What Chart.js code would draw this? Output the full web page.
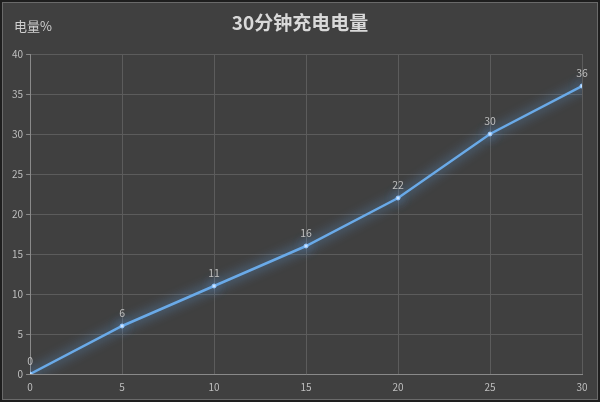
<!DOCTYPE html>
<html><head><meta charset="utf-8">
<script src="https://cdn.jsdelivr.net/npm/chart.js@4.4.0/dist/chart.umd.min.js"></script>
<style>
html,body{margin:0;padding:0;background:#404040;}
#wrap{width:600px;height:402px;position:relative;}
</style></head>
<body><div id="wrap"><canvas id="c" width="600" height="402"></canvas></div>
<script>
const minutes = [0, 5, 10, 15, 20, 25, 30];
const charge = [0, 6, 11, 16, 22, 30, 36];
const titleText = '30分钟充电电量';
const yAxisLabel = '电量%';

const FONT = '"Noto Sans CJK SC", "Noto Sans", sans-serif';

const decor = {
  id: 'decor',
  beforeDraw(chart) {
    const ctx = chart.ctx;
    ctx.save();
    ctx.fillStyle = '#404040';
    ctx.fillRect(0, 0, chart.width, chart.height);
    ctx.strokeStyle = '#1e1e1e';
    ctx.lineWidth = 2;
    ctx.strokeRect(1, 1, chart.width - 2, chart.height - 2);
    ctx.strokeStyle = '#6a6a6a';
    ctx.lineWidth = 1;
    ctx.strokeRect(2.5, 2.5, chart.width - 5, chart.height - 5);
    ctx.restore();
  },
  afterDraw(chart) {
    const ctx = chart.ctx;
    ctx.save();
    ctx.fillStyle = '#d9d9d9';
    ctx.textAlign = 'center';
    ctx.textBaseline = 'middle';
    ctx.font = 'bold 19px ' + FONT;
    ctx.fillText(titleText, 300, 23);
    ctx.font = '13px ' + FONT;
    ctx.textAlign = 'left';
    ctx.fillStyle = '#d0d0d0';
    ctx.fillText(yAxisLabel, 14, 26);
    // data labels
    const meta = chart.getDatasetMeta(0);
    ctx.font = '10.5px ' + FONT;
    ctx.fillStyle = '#bfbfbf';
    ctx.textAlign = 'center';
    ctx.textBaseline = 'bottom';
    meta.data.forEach((pt, i) => {
      ctx.fillText(String(charge[i]), pt.x, pt.y - 8);
    });
    ctx.restore();
  },
  beforeDatasetDraw(chart) {
    const ctx = chart.ctx;
    ctx.save();
    ctx.shadowColor = 'rgba(100,170,240,1)';
    ctx.shadowBlur = 12;
  },
  afterDatasetDraw(chart) {
    chart.ctx.restore();
  }
};

new Chart(document.getElementById('c'), {
  type: 'line',
  data: {
    datasets: [{
      data: minutes.map((m, i) => ({x: m, y: charge[i]})),
      borderColor: '#6aaae8',
      borderWidth: 2.5,
      pointRadius: 2,
      pointBackgroundColor: '#cfe6ff',
      pointBorderColor: '#8cc4ff',
      pointBorderWidth: 1,
      tension: 0,
      fill: false
    }]
  },
  options: {
    responsive: false,
    animation: false,
    layout: { padding: { top: 54, left: 9, right: 18, bottom: 2 } },
    plugins: { legend: { display: false }, tooltip: { enabled: false } },
    scales: {
      x: {
        type: 'linear', min: 0, max: 30,
        ticks: { stepSize: 5, color: '#bfbfbf', font: { size: 10, family: FONT }, padding: 7 },
        grid: { color: '#5c5c5c', tickLength: 0, tickColor: '#8a8a8a' },
        border: { color: '#8a8a8a', width: 1 }
      },
      y: {
        min: 0, max: 40,
        ticks: { stepSize: 5, color: '#bfbfbf', font: { size: 10, family: FONT }, padding: 3 },
        grid: { color: '#5c5c5c', tickLength: 4, tickColor: '#8a8a8a' },
        border: { color: '#8a8a8a', width: 1 }
      }
    }
  },
  plugins: [decor]
});
</script>
</body></html>
